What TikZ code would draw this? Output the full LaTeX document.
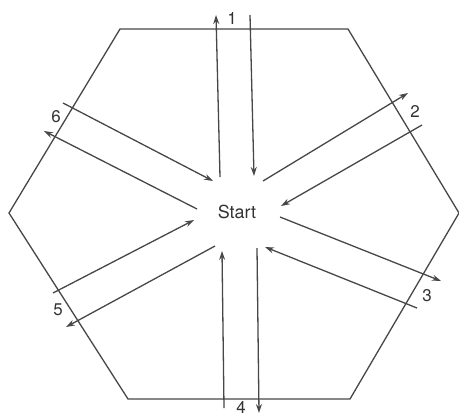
\documentclass[tikz,border=0pt]{standalone}
\usepackage{fontspec}
\setmainfont{TeX Gyre Heros}
\usetikzlibrary{arrows.meta}
\begin{document}
\begin{tikzpicture}[x=1bp,y=-1bp,
  edge/.style={draw=black!72,line width=1.3bp},
  arr/.style={edge,-{Stealth[length=9bp,width=6bp]}},
  lbl/.style={inner sep=0pt,text=black!80,font=\fontsize{17}{20}\selectfont},
]
\useasboundingbox (0,0) rectangle (459,417);
% hexagon
\coordinate (h1) at (120,29);
\coordinate (h2) at (348,29);
\coordinate (h3) at (459,213);
\coordinate (h4) at (350,399);
\coordinate (h5) at (128,399);
\coordinate (h6) at (9,213);
\draw[edge,line join=miter] (h1)--(h2)--(h3)--(h4)--(h5)--(h6)--cycle;
% centre
\node[lbl,font=\fontsize{18}{20}\selectfont] (start) at (237,212) {Start};
% 1
\coordinate (a1s) at (220,177); \coordinate (a1e) at (216,15);
\coordinate (b1s) at (250,15);  \coordinate (b1e) at (254,176);
\draw[arr] (a1s) -- (a1e);
\draw[arr] (b1s) -- (b1e);
\node[lbl] (l1) at (232,18) {1};
% 2
\coordinate (a2s) at (263,181); \coordinate (a2e) at (408,93);
\coordinate (b2s) at (422,125); \coordinate (b2e) at (281,206);
\draw[arr] (a2s) -- (a2e);
\draw[arr] (b2s) -- (b2e);
\node[lbl] (l2) at (415,111) {2};
% 3
\coordinate (a3s) at (280,217); \coordinate (a3e) at (441,281);
\coordinate (b3s) at (417,308); \coordinate (b3e) at (265,247);
\draw[arr] (a3s) -- (a3e);
\draw[arr] (b3s) -- (b3e);
\node[lbl] (l3) at (427,296) {3};
% 4
\coordinate (a4s) at (224,408); \coordinate (a4e) at (222,251);
\coordinate (b4s) at (257,248); \coordinate (b4e) at (259,413);
\draw[arr] (a4s) -- (a4e);
\draw[arr] (b4s) -- (b4e);
\node[lbl] (l4) at (241,407.5) {4};
% 5
\coordinate (a5s) at (53,293); \coordinate (a5e) at (194,220);
\coordinate (b5s) at (215,246); \coordinate (b5e) at (66,327);
\draw[arr] (a5s) -- (a5e);
\draw[arr] (b5s) -- (b5e);
\node[lbl] (l5) at (58,310) {5};
% 6
\coordinate (a6s) at (63,103); \coordinate (a6e) at (213,181);
\coordinate (b6s) at (197,209); \coordinate (b6e) at (44,131);
\draw[arr] (a6s) -- (a6e);
\draw[arr] (b6s) -- (b6e);
\node[lbl] (l6) at (56,117) {6};
\end{tikzpicture}
\end{document}
